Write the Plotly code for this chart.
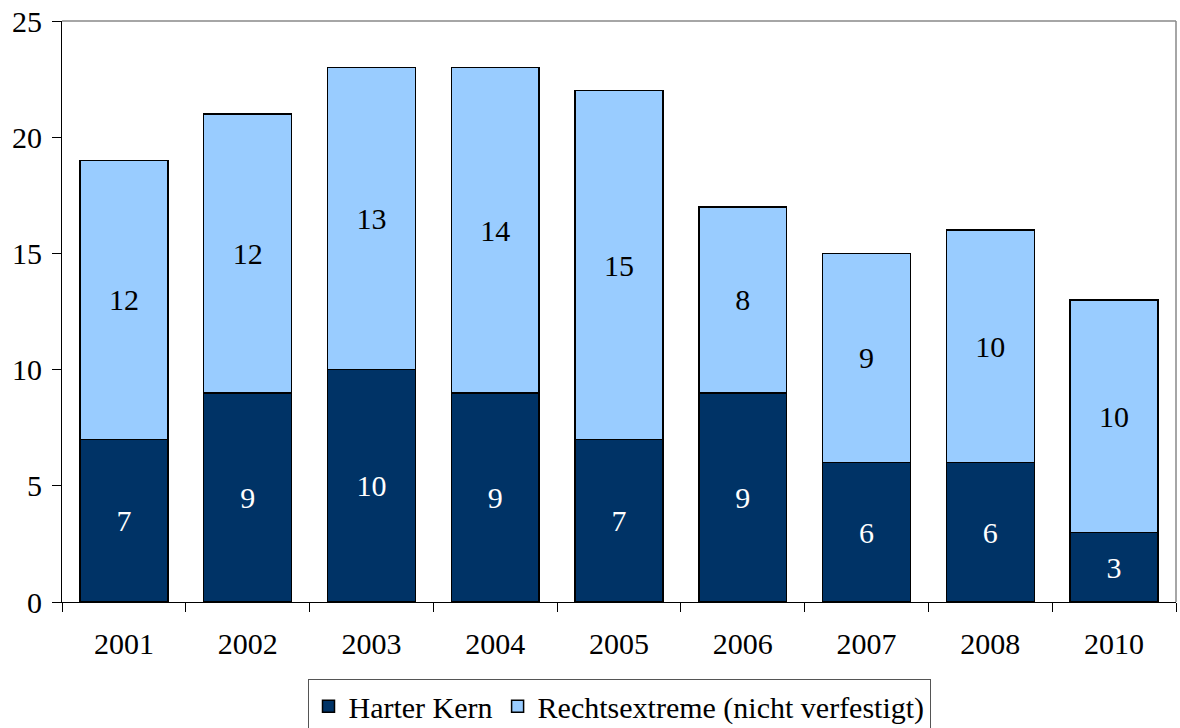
import plotly.graph_objects as go

years = ["2001", "2002", "2003", "2004", "2005", "2006", "2007", "2008", "2010"]
harter_kern = [7, 9, 10, 9, 7, 9, 6, 6, 3]
rechtsextreme = [12, 12, 13, 14, 15, 8, 9, 10, 10]
y_ticks = [0, 5, 10, 15, 20, 25]

FONT = "Liberation Serif, Times New Roman, serif"
SIZE = 30

fig = go.Figure()
fig.add_trace(go.Bar(
    x=years, y=harter_kern, name="Harter Kern",
    marker=dict(color="#003366", line=dict(color="black", width=1.5)),
    text=harter_kern, textposition="inside", insidetextanchor="middle",
    textfont=dict(color="white", size=SIZE, family=FONT),
))
fig.add_trace(go.Bar(
    x=years, y=rechtsextreme, name="Rechtsextreme (nicht verfestigt)",
    marker=dict(color="#99CCFF", line=dict(color="black", width=1.5)),
    text=rechtsextreme, textposition="inside", insidetextanchor="middle",
    textfont=dict(color="black", size=SIZE, family=FONT),
))

fig.update_layout(
    barmode="stack",
    bargap=0.29,
    width=1180, height=728,
    margin=dict(l=62, r=4, t=21, b=126, autoexpand=False),
    paper_bgcolor="white", plot_bgcolor="white",
    font=dict(family=FONT, size=SIZE, color="black"),
    uniformtext=dict(mode="show", minsize=SIZE),
    legend=dict(
        orientation="h", x=0.5, xanchor="center",
        y=-0.133, yanchor="top",
        bordercolor="#555555", borderwidth=1,
        font=dict(size=SIZE, family=FONT), traceorder="normal",
        itemwidth=30, tracegroupgap=0,
    ),
    xaxis=dict(
        showline=True, linecolor="black", linewidth=1,
        ticks="outside", tickson="boundaries", ticklen=9, tickcolor="black",
        ticklabelstandoff=15,
        tickfont=dict(size=SIZE, family=FONT), showgrid=False,
    ),
    yaxis=dict(
        range=[0, 25], tickvals=y_ticks, showline=True, linecolor="black",
        linewidth=1, ticks="outside", ticklen=9, tickcolor="black",
        ticklabelstandoff=4,
        tickfont=dict(size=SIZE, family=FONT), showgrid=False, zeroline=False,
    ),
    shapes=[
        dict(type="line", xref="paper", yref="paper", x0=0, x1=1, y0=1, y1=1,
             line=dict(color="#888888", width=1.5)),
        dict(type="line", xref="paper", yref="paper", x0=1, x1=1, y0=0, y1=1,
             line=dict(color="#888888", width=1.5)),
    ],
)

fig.write_html("out.html")
